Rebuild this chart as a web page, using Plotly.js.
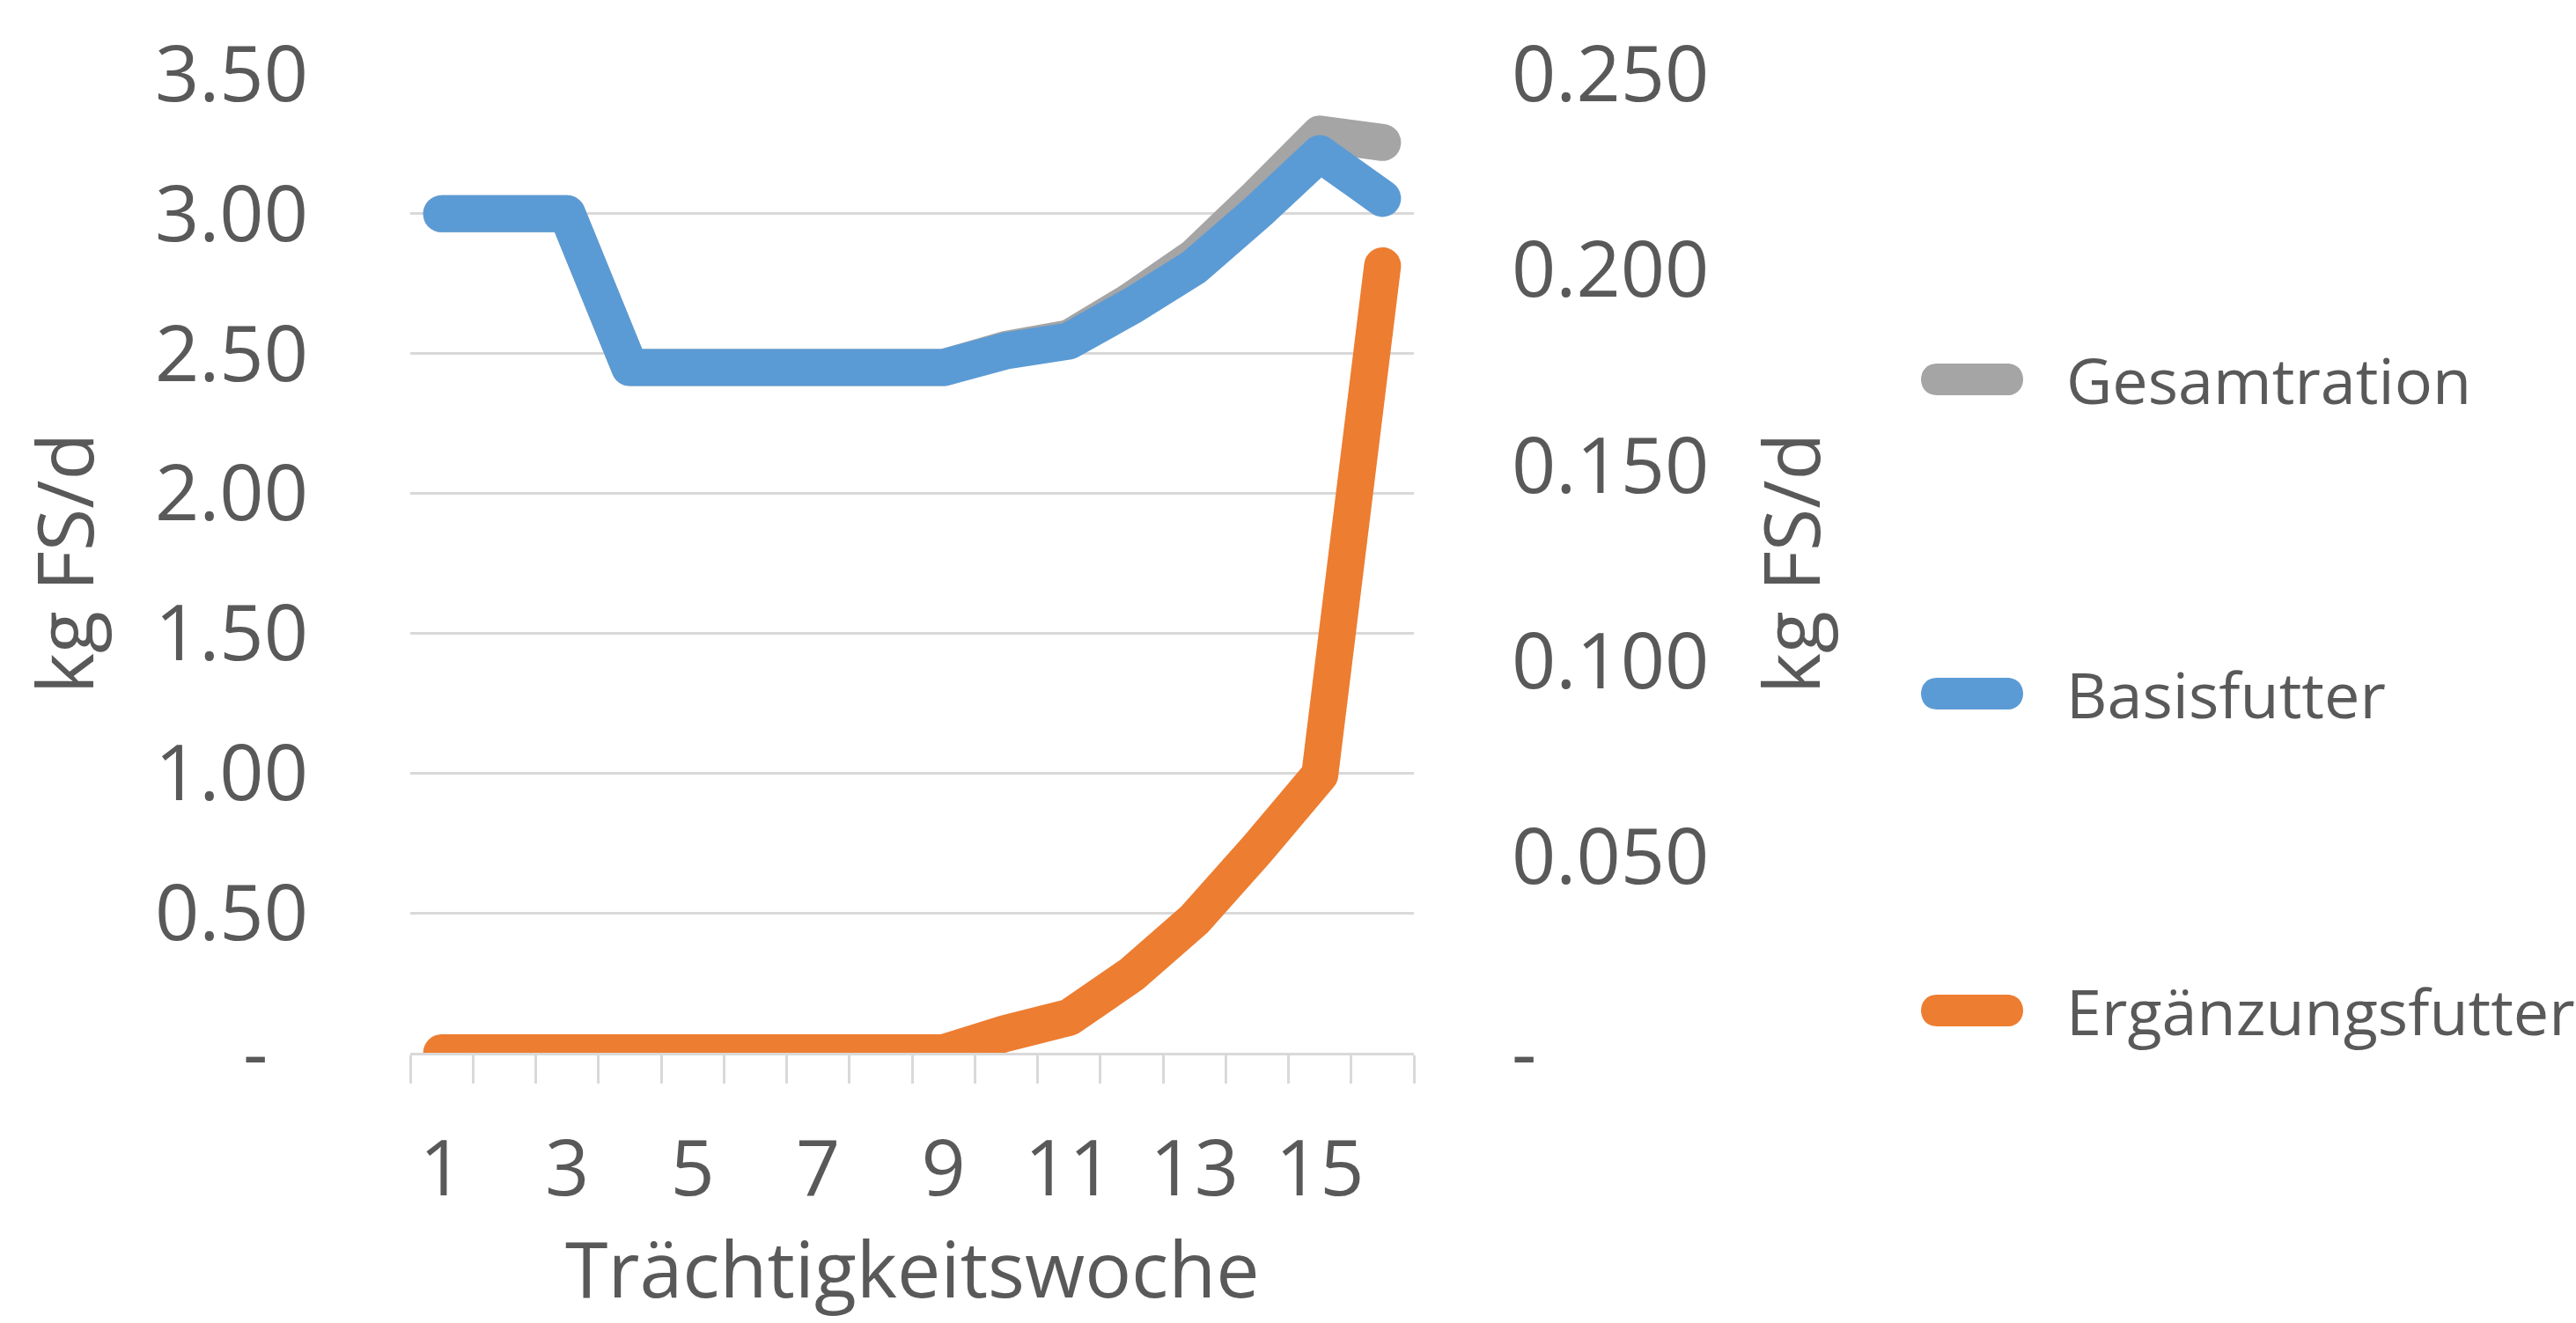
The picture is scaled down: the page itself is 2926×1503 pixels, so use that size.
<!DOCTYPE html>
<html>
<head>
<meta charset="utf-8">
<script src="https://cdn.plot.ly/plotly-3.0.1.min.js"></script>
<style>
  html, body { margin: 0; padding: 0; background: #fff; }
  #chart { width: 2926px; height: 1503px; }
  .scatterlayer .js-line { stroke-linejoin: round !important; stroke-linecap: round !important; }
</style>
</head>
<body>
<div id="chart"></div>
<script>
// ---- data ----
const weeks = [1, 2, 3, 4, 5, 6, 7, 8, 9, 10, 11, 12, 13, 14, 15, 16];
const xTickVals = [1, 3, 5, 7, 9, 11, 13, 15];
const xTickText = ['1', '3', '5', '7', '9', '11', '13', '15'];
const gesamtration = [3.00, 3.00, 3.00, 2.45, 2.45, 2.45, 2.45, 2.45, 2.45, 2.515, 2.555, 2.69, 2.845, 3.06, 3.285, 3.255];
const basisfutter = [3.00, 3.00, 3.00, 2.45, 2.45, 2.45, 2.45, 2.45, 2.45, 2.51, 2.545, 2.67, 2.81, 3.005, 3.215, 3.055];
const ergaenzungsfutter = [0, 0, 0, 0, 0, 0, 0, 0, 0, 0.005, 0.009, 0.020, 0.034, 0.052, 0.071, 0.201];
const yLeftVals = [0, 0.5, 1, 1.5, 2, 2.5, 3, 3.5];
const yLeftText = ['-\u00A0\u00A0', '0.50', '1.00', '1.50', '2.00', '2.50', '3.00', '3.50'];
const yRightVals = [0, 0.05, 0.1, 0.15, 0.2, 0.25];
const yRightText = ['-', '0.050', '0.100', '0.150', '0.200', '0.250'];
const seriesNames = ['Gesamtration', 'Basisfutter', 'Ergänzungsfutter'];
const seriesColors = ['#A5A5A5', '#5B9BD5', '#ED7D31'];
const xTitle = 'Trächtigkeitswoche';
const yTitle = 'kg FS/d';

// ---- layout geometry ----
const W = 2926, H = 1503;
const plotL = 466, plotR = 1606, plotT = 84, plotB = 1196;
const textColor = '#595959';
const gridColor = '#D9D9D9';
const font = 'Open Sans, sans-serif';
const px2x = p => (p - plotL) / (plotR - plotL);
const px2y = p => (plotB - p) / (plotB - plotT);
const LW = 42;

const traces = [
  { x: weeks, y: gesamtration, name: seriesNames[0], type: 'scatter', mode: 'lines',
    line: { color: seriesColors[0], width: LW }, yaxis: 'y', hoverinfo: 'skip' },
  { x: weeks, y: basisfutter, name: seriesNames[1], type: 'scatter', mode: 'lines',
    line: { color: seriesColors[1], width: LW }, yaxis: 'y', hoverinfo: 'skip' },
  { x: weeks, y: ergaenzungsfutter, name: seriesNames[2], type: 'scatter', mode: 'lines',
    line: { color: seriesColors[2], width: LW }, yaxis: 'y2', hoverinfo: 'skip' }
];

// custom legend
const legendY = [431, 788, 1148];
const shapes = [];
const annotations = [];
seriesNames.forEach((n, i) => {
  const r = 18, hl = 40;
  const path = `M ${-hl},${-r} L ${hl},${-r} C ${hl + 24},${-r} ${hl + 24},${r} ${hl},${r} L ${-hl},${r} C ${-hl - 24},${r} ${-hl - 24},${-r} ${-hl},${-r} Z`;
  shapes.push({
    type: 'path', xref: 'paper', yref: 'paper', xsizemode: 'pixel', ysizemode: 'pixel',
    xanchor: px2x(2240), yanchor: px2y(legendY[i]), path: path,
    fillcolor: seriesColors[i], line: { width: 0 }
  });
  annotations.push({
    xref: 'paper', yref: 'paper', x: px2x(2345), y: px2y(legendY[i]),
    xanchor: 'left', yanchor: 'middle', showarrow: false, text: n,
    font: { family: font, size: 72, color: textColor }
  });
});

// x axis title
annotations.push({
  xref: 'paper', yref: 'paper', x: 0.5, y: px2y(1503), yshift: 1,
  xanchor: 'center', yanchor: 'bottom', showarrow: false, text: xTitle,
  font: { family: font, size: 88, color: textColor }
});

const layout = {
  width: W, height: H,
  paper_bgcolor: '#fff', plot_bgcolor: '#fff',
  margin: { l: plotL, r: W - plotR, t: plotT, b: H - plotB, autoexpand: false },
  showlegend: false,
  font: { family: font, color: textColor, size: 88 },
  xaxis: {
    range: [0.5, 16.5], tickmode: 'array', tickvals: xTickVals, ticktext: xTickText,
    ticks: '', showgrid: false, zeroline: false,
    showline: true, linecolor: gridColor, linewidth: 3,
    ticklabelstandoff: 53,
    tickfont: { family: font, size: 88, color: textColor },
    minor: { tickmode: 'linear', tick0: 0.5, dtick: 1, ticks: 'outside', ticklen: 32, tickwidth: 3, tickcolor: gridColor, showgrid: false },
    fixedrange: true
  },
  yaxis: {
    range: [0, 3.5], tickmode: 'array', tickvals: yLeftVals, ticktext: yLeftText,
    showgrid: true, gridcolor: gridColor, gridwidth: 3, zeroline: false, showline: false,
    ticks: '', ticklabelstandoff: 115,
    tickfont: { family: font, size: 88, color: textColor },
    title: { text: yTitle, font: { family: font, size: 88, color: textColor }, standoff: 40 },
    fixedrange: true
  },
  yaxis2: {
    range: [0, 0.25], overlaying: 'y', side: 'right', tickmode: 'array', tickvals: yRightVals, ticktext: yRightText,
    showgrid: false, zeroline: false, showline: false,
    ticks: '', ticklabelstandoff: 110,
    tickfont: { family: font, size: 88, color: textColor },
    title: { text: yTitle, font: { family: font, size: 88, color: textColor }, standoff: 65 },
    fixedrange: true
  },
  shapes: shapes,
  annotations: annotations
};

Plotly.newPlot('chart', traces, layout, { displayModeBar: false, staticPlot: true });
</script>
</body>
</html>
